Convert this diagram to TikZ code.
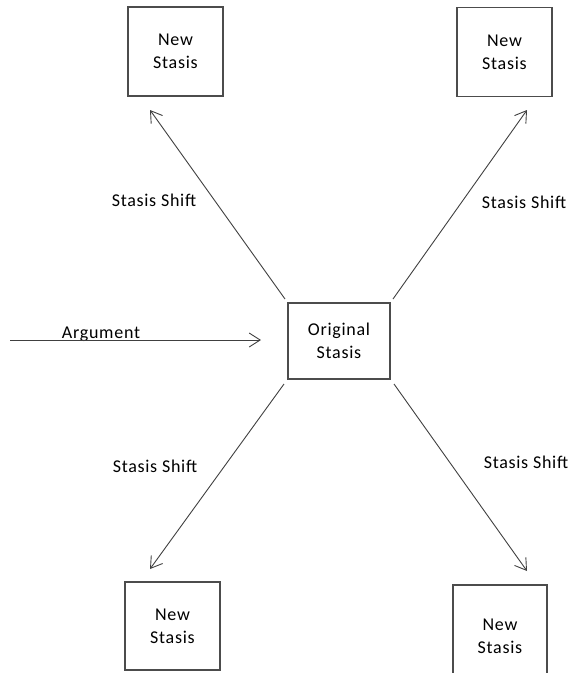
\documentclass[tikz,border=0pt]{standalone}
\usepackage{fontspec}
\setmainfont{Carlito}[LetterSpace=4]
\usetikzlibrary{arrows.meta}
\begin{document}
\begin{tikzpicture}[x=1pt,y=-1pt,
  stbox/.style={draw=black!70,line width=1.3pt,minimum width=95pt,minimum height=89pt,inner sep=0pt,align=center,font=\fontsize{18}{23}\selectfont},
  lbl/.style={font=\fontsize{18}{23}\selectfont,inner sep=0pt},
  conn/.style={draw=black!75,line width=0.9pt,-{Straight Barb[length=11pt,width=14pt,line width=0.9pt]}}]
\useasboundingbox (0,0) rectangle (570,673);
\clip (0,0) rectangle (570,673);
\node[stbox] (tl) at (175.5,51.5) {New\\Stasis};
\node[stbox] (tr) at (504.5,52) {New\\Stasis};
\node[stbox,minimum width=102pt,minimum height=76pt] (orig) at (339,341) {Original\\Stasis};
\node[stbox,minimum height=88pt] (bl) at (172.5,626) {New\\Stasis};
\draw[draw=black!70,line width=1.3pt] (453,690) -- (453,585) -- (547,585) -- (547,690);
\node[lbl,align=center] (br) at (500,636) {New\\Stasis};
\coordinate (s1) at (285,299);
\coordinate (e1) at (150,110);
\coordinate (s2) at (393,299);
\coordinate (e2) at (527,110);
\coordinate (s3) at (284,384);
\coordinate (e3) at (150,569);
\coordinate (s4) at (394,384);
\coordinate (e4) at (527,571);
\coordinate (a0) at (10,340);
\coordinate (a1) at (261,340);
\draw[conn] (s1) -- (e1);
\draw[conn] (s2) -- (e2);
\draw[conn] (s3) -- (e3);
\draw[conn] (s4) -- (e4);
\node[lbl] (argl) at (101,334.5) {Argument};
\draw[conn] (a0) -- (a1);
\node[lbl] (l1) at (154,200) {Stasis Shift};
\node[lbl] (l2) at (524,202) {Stasis Shift};
\node[lbl] (l3) at (155,466) {Stasis Shift};
\node[lbl] (l4) at (526,462) {Stasis Shift};
\end{tikzpicture}
\end{document}
